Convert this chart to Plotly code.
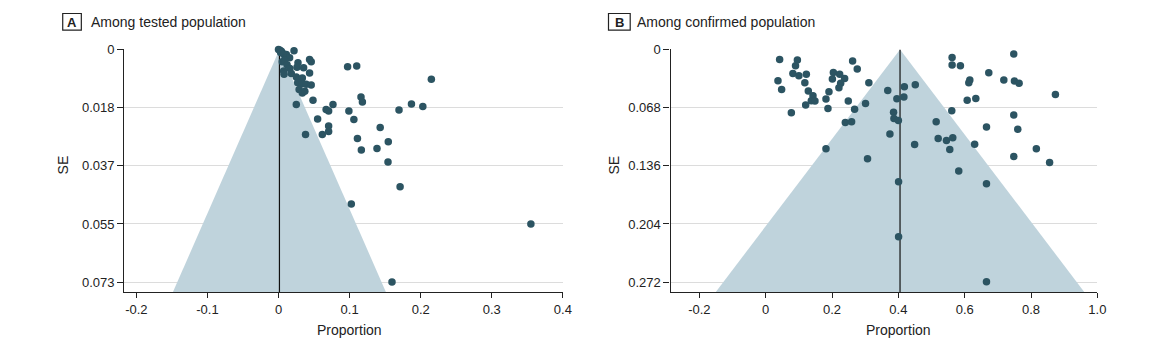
import plotly.graph_objects as go

W, H = 1173, 356

# ---------------- Data ----------------
# Panel A: Among tested population (proportion, SE)
a_prop = [0.000, 0.002, 0.004, 0.006, 0.009, 0.011, 0.003, 0.0218, 0.0156, 0.0053,
          0.0086, 0.0274, 0.026, 0.0437, 0.046, 0.0353, 0.0437, 0.0072, 0.0078, 0.018,
          0.025, 0.0288, 0.0335, 0.027, 0.033, 0.039, 0.046, 0.029, 0.0335, 0.037,
          0.025, 0.0485, 0.067, 0.0705, 0.0766, 0.055, 0.0705, 0.0705, 0.038, 0.0616,
          0.0972, 0.110, 0.215, 0.116, 0.118, 0.099, 0.1695, 0.187, 0.203, 0.106,
          0.143, 0.111, 0.1544, 0.1165, 0.1385, 0.154, 0.171, 0.1024, 0.355, 0.1596,
          0.012, 0.016]
a_se = [0.0000, 0.0003, 0.0006, 0.0012, 0.0020, 0.0016, 0.0010, 0.0004, 0.0026, 0.0039,
        0.0035, 0.0042, 0.0056, 0.0032, 0.0039, 0.0058, 0.0074, 0.0068, 0.0078, 0.0076,
        0.0087, 0.0095, 0.0090, 0.0105, 0.0108, 0.0110, 0.0112, 0.0126, 0.0137, 0.0132,
        0.0174, 0.0160, 0.0189, 0.0194, 0.0174, 0.0219, 0.0241, 0.0259, 0.0268, 0.0268,
        0.0055, 0.0052, 0.0094, 0.0150, 0.0166, 0.0194, 0.0191, 0.0172, 0.0180, 0.0221,
        0.0246, 0.0281, 0.0291, 0.0317, 0.0312, 0.0355, 0.0433, 0.0487, 0.0550, 0.0733,
        0.0048, 0.0060]
a_pooled = 0.0013
a_se_max = 0.0765
a_x_range = [-0.217, 0.4]
a_xticks = [-0.2, -0.1, 0, 0.1, 0.2, 0.3, 0.4]
a_xticktext = ["-0.2", "-0.1", "0", "0.1", "0.2", "0.3", "0.4"]
a_yticks = [0, 0.018333, 0.036667, 0.055, 0.073333]
a_yticktext = ["0", "0.018", "0.037", "0.055", "0.073"]

# Panel B: Among confirmed population (proportion, SE)
b_prop = [0.042, 0.0955, 0.090, 0.037, 0.048, 0.082, 0.100, 0.1225, 0.118, 0.1285,
          0.1425, 0.1375, 0.1485, 0.1205, 0.0773, 0.1907, 0.1817, 0.1877, 0.204, 0.201,
          0.223, 0.238, 0.226, 0.2208, 0.262, 0.276, 0.249, 0.268, 0.240, 0.259,
          0.311, 0.301, 0.1817, 0.307, 0.368, 0.3955, 0.418, 0.4166, 0.451, 0.3855,
          0.3866, 0.400, 0.3745, 0.449, 0.562, 0.562, 0.587, 0.748, 0.6726, 0.6154,
          0.6124, 0.718, 0.750, 0.764, 0.8735, 0.6075, 0.6335, 0.561, 0.748, 0.514,
          0.6657, 0.760, 0.520, 0.545, 0.564, 0.555, 0.630, 0.816, 0.748, 0.856,
          0.582, 0.4006, 0.6657, 0.4006, 0.6657]
b_se = [0.0117, 0.0125, 0.0191, 0.0366, 0.0468, 0.0281, 0.0308, 0.0289, 0.0390, 0.0487,
        0.0542, 0.0600, 0.0604, 0.0651, 0.0740, 0.0495, 0.0581, 0.0690, 0.0269, 0.0347,
        0.0289, 0.0339, 0.0397, 0.0448, 0.0137, 0.0230, 0.0604, 0.0698, 0.0853, 0.0845,
        0.0390, 0.0631, 0.1161, 0.1278, 0.0479, 0.0576, 0.0436, 0.0557, 0.0413, 0.0733,
        0.0807, 0.0830, 0.0990, 0.1110, 0.0094, 0.0183, 0.0191, 0.0055, 0.0273, 0.0359,
        0.0390, 0.0359, 0.0370, 0.0397, 0.0526, 0.0593, 0.0573, 0.0717, 0.0768, 0.0845,
        0.0908, 0.0932, 0.1040, 0.1064, 0.1032, 0.1169, 0.1107, 0.1161, 0.1251, 0.1321,
        0.1422, 0.1547, 0.1570, 0.2190, 0.2716]
b_pooled = 0.405
b_se_max = 0.2837
b_x_range = [-0.287, 1.0]
b_xticks = [-0.2, 0, 0.2, 0.4, 0.6, 0.8, 1.0]
b_xticktext = ["-0.2", "0", "0.2", "0.4", "0.6", "0.8", "1.0"]
b_yticks = [0, 0.068, 0.136, 0.204, 0.272]
b_yticktext = ["0", "0.068", "0.136", "0.204", "0.272"]

# ---------------- Style ----------------
FONT = "Liberation Sans, Arial, sans-serif"
TXT = "#222222"
DOT = "#2c5462"
FILL = "#bfd3dc"
GRID = "#dcdcdc"
AXL = "#222222"

# layout positions given as target pixels, mapped to paper fractions
def px_x(p):
    return (p / 0.992) / W

def px_y(p):
    return 1 - ((p - 8) / 0.978) / H

fig = go.Figure()

def add_panel(prop, se, pooled, se_max, xa, ya):
    z = 1.96
    fig.add_trace(go.Scatter(
        x=[pooled, pooled - z * se_max, pooled + z * se_max, pooled],
        y=[0, se_max, se_max, 0],
        mode="lines", fill="toself", fillcolor=FILL, line=dict(width=0, color=FILL),
        hoverinfo="skip", showlegend=False, xaxis=xa, yaxis=ya))
    fig.add_trace(go.Scatter(
        x=[pooled, pooled], y=[0, se_max], mode="lines",
        line=dict(color="#111111", width=1.2), hoverinfo="skip",
        showlegend=False, xaxis=xa, yaxis=ya))
    fig.add_trace(go.Scatter(
        x=prop, y=se, mode="markers",
        marker=dict(color=DOT, size=7.5, line=dict(width=0)),
        cliponaxis=False, showlegend=False, xaxis=xa, yaxis=ya))

add_panel(a_prop, a_se, a_pooled, a_se_max, "x", "y")
add_panel(b_prop, b_se, b_pooled, b_se_max, "x2", "y2")

y_dom = [px_y(292.5), px_y(50.3)]
common_x = dict(showgrid=False, zeroline=False, showline=True, linecolor=AXL, linewidth=1.2,
                ticks="outside", ticklen=5, tickcolor=AXL, tickwidth=1.2,
                tickfont=dict(family=FONT, size=13, color=TXT), fixedrange=True)
common_y = dict(showgrid=True, gridcolor=GRID, gridwidth=1, zeroline=False, showline=True,
                linecolor=AXL, linewidth=1.2, ticks="outside", ticklen=6, tickcolor=AXL,
                tickwidth=1.2, tickfont=dict(family=FONT, size=13, color=TXT), fixedrange=True)

fig.update_layout(
    width=W, height=H, margin=dict(l=0, r=0, t=0, b=0),
    paper_bgcolor="white", plot_bgcolor="white",
    xaxis=dict(domain=[px_x(124.2), px_x(562.7)], range=a_x_range, tickvals=a_xticks,
               ticktext=a_xticktext, anchor="y", **common_x),
    yaxis=dict(domain=y_dom, range=[a_se_max, 0], tickvals=a_yticks, ticktext=a_yticktext,
               anchor="x", **common_y),
    xaxis2=dict(domain=[px_x(670.3), px_x(1097)], range=b_x_range, tickvals=b_xticks,
                ticktext=b_xticktext, anchor="y2", **common_x),
    yaxis2=dict(domain=y_dom, range=[b_se_max, 0], tickvals=b_yticks, ticktext=b_yticktext,
                anchor="x2", **common_y),
)

# Panel headers
def header(letter, title, bx0, bx1, tx):
    fig.add_shape(type="rect", xref="paper", yref="paper",
                  x0=px_x(bx0), x1=px_x(bx1), y0=px_y(31), y1=px_y(14.5),
                  line=dict(color=TXT, width=1.2), fillcolor="white")
    fig.add_annotation(x=px_x((bx0 + bx1) / 2), y=px_y(23), xref="paper", yref="paper",
                       text="<b>%s</b>" % letter, showarrow=False, xanchor="center", yanchor="middle",
                       font=dict(family=FONT, size=13, color=TXT))
    fig.add_annotation(x=px_x(tx), y=px_y(22.5), xref="paper", yref="paper",
                       text=title, showarrow=False, xanchor="left", yanchor="middle",
                       font=dict(family=FONT, size=14, color=TXT))

header("A", "Among tested population", 62.7, 81.3, 88.5)
header("B", "Among confirmed population", 608.3, 630, 634.5)

# Axis titles
for xc, yc in [(349, 330), (898, 330)]:
    fig.add_annotation(x=px_x(xc), y=px_y(yc), xref="paper", yref="paper", text="Proportion",
                       showarrow=False, xanchor="center", yanchor="middle",
                       font=dict(family=FONT, size=14, color=TXT))
for xc, yc in [(63, 166), (614, 166)]:
    fig.add_annotation(x=px_x(xc), y=px_y(yc), xref="paper", yref="paper", text="SE",
                       showarrow=False, xanchor="center", yanchor="middle", textangle=-90,
                       font=dict(family=FONT, size=14, color=TXT))

fig.write_html(
    "out.html",
    config={"displayModeBar": False},
    post_script=(
        "document.body.style.margin='0';document.body.style.padding='0';"
        "document.documentElement.style.overflow='hidden';"
        "document.body.style.overflow='hidden';"
    ),
)
